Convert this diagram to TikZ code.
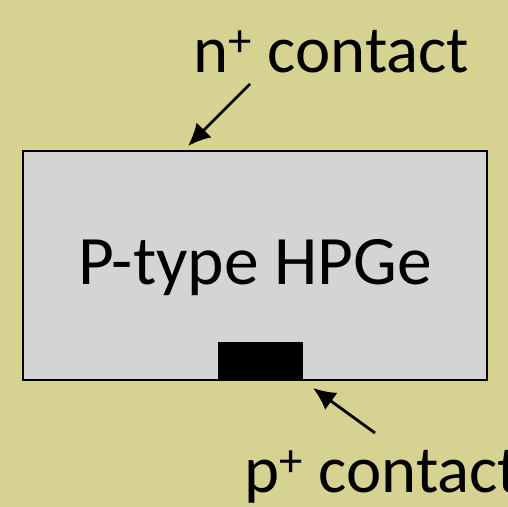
\documentclass[tikz,border=0pt]{standalone}
\usepackage{fontspec}
\setmainfont{Carlito}
\usepackage{xcolor}
\usetikzlibrary{arrows.meta, positioning}
\definecolor{slideback}{RGB}{214,210,145}
\definecolor{crystalgray}{RGB}{212,212,212}
\tikzset{
  label/.style={inner sep=0pt, font=\fontsize{38}{44}\selectfont},
  crystal/.style={draw=black, line width=1pt, fill=crystalgray},
  contactpad/.style={draw=black, fill=black},
  pointer/.style={-{Latex[length=4.5mm, width=4.2mm]}, line width=1.6pt, draw=black}
}
\begin{document}
\begin{tikzpicture}[x=0.02cm, y=-0.02cm]

% -------- background --------
\fill[slideback] (0,0) rectangle (508,507);
\useasboundingbox (0,0) rectangle (508,507);

% -------- detector crystal --------
\draw[crystal] (23,151) rectangle (487,380);
\node[label, font=\fontsize{39.5}{46}\selectfont] (crystal) at (255,268) {P-type HPGe};
\fill[contactpad] (218,342) rectangle (302,380);

% -------- contact labels --------
\node[label, anchor=base west] (ncontact) at (193,72) {n\textsuperscript{+} contact};
\node[label, anchor=base west] (pcontact) at (244,492) {p\textsuperscript{+} contact};

\coordinate (ntip) at (188,146);
\coordinate (nstart) at (250,84);
\coordinate (ptip) at (313,388);
\coordinate (pstart) at (375,433);

\draw[pointer] (nstart) -- (ntip);
\draw[pointer] (pstart) -- (ptip);

\end{tikzpicture}
\end{document}
